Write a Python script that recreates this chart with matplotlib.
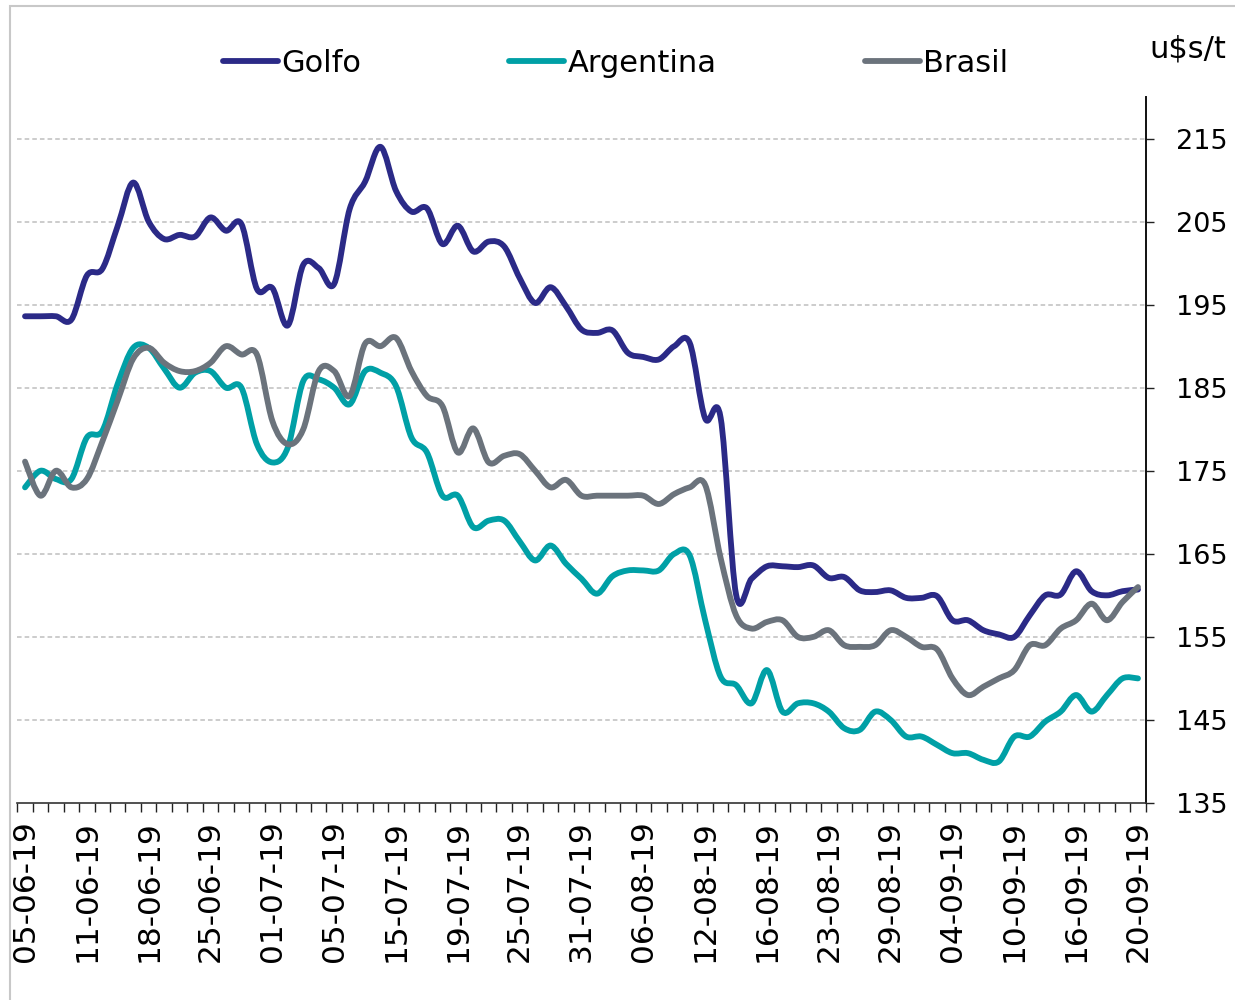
import matplotlib
matplotlib.use("Agg")
import matplotlib.pyplot as plt
from matplotlib.patches import Rectangle, PathPatch
from matplotlib.path import Path
from matplotlib.lines import Line2D
from matplotlib.ticker import FixedLocator
import numpy as np

# tick labels every 4th trading day (73 days in total)
tick_labels = ["05-06-19", "11-06-19", "18-06-19", "25-06-19", "01-07-19",
               "05-07-19", "15-07-19", "19-07-19", "25-07-19", "31-07-19",
               "06-08-19", "12-08-19", "16-08-19", "23-08-19", "29-08-19",
               "04-09-19", "10-09-19", "16-09-19", "20-09-19"]

golfo = [193.6, 193.6, 193.6, 193.2, 198.5, 199.3, 204.5, 209.7, 205.0, 202.9,
         203.4, 203.2, 205.5, 203.9, 204.7, 196.9, 197.0, 192.5, 199.8, 199.4,
         197.5, 206.5, 209.8, 214.0, 208.7, 206.2, 206.6, 202.3, 204.5, 201.4,
         202.6, 202.0, 198.2, 195.2, 197.1, 194.8, 192.0, 191.6, 191.9, 189.2,
         188.7, 188.4, 190.0, 190.4, 181.3, 181.4, 160.1, 162.0, 163.5, 163.5,
         163.4, 163.6, 162.1, 162.2, 160.6, 160.4, 160.6, 159.7, 159.7, 159.9,
         157.0, 157.0, 155.8, 155.3, 155.0, 157.6, 160.0, 160.1, 162.9, 160.5,
         160.0, 160.5, 160.7]

argentina = [173.0, 175.0, 174.0, 174.0, 179.0, 179.8, 185.5, 189.8, 189.8, 187.3,
             185.0, 186.8, 187.0, 185.0, 185.0, 178.2, 176.0, 177.8, 185.8, 186.0,
             185.0, 183.0, 187.0, 186.8, 185.2, 179.0, 177.2, 172.0, 172.0, 168.2,
             169.0, 169.0, 166.5, 164.2, 166.0, 163.8, 162.0, 160.2, 162.3, 163.0,
             163.0, 163.0, 165.0, 164.8, 157.0, 150.2, 149.2, 147.0, 151.0, 146.0,
             147.0, 147.0, 146.0, 144.0, 143.8, 146.0, 145.0, 143.0, 143.0, 142.0,
             141.0, 141.0, 140.2, 140.0, 143.0, 143.0, 144.8, 146.0, 148.0, 146.0,
             148.0, 150.0, 150.0]

brasil = [176.1, 172.0, 175.0, 173.0, 174.0, 178.5, 183.5, 188.5, 189.8, 188.0,
          187.0, 187.0, 188.0, 190.0, 189.0, 189.0, 181.0, 178.2, 180.0, 187.0,
          187.0, 184.0, 190.3, 190.0, 191.0, 187.0, 184.0, 182.8, 177.2, 180.1,
          176.0, 176.8, 177.0, 175.0, 173.0, 173.9, 172.0, 172.0, 172.0, 172.0,
          172.0, 171.0, 172.2, 173.0, 173.3, 164.5, 157.6, 156.0, 156.8, 157.0,
          155.0, 155.0, 155.8, 154.0, 153.8, 154.0, 155.8, 155.0, 153.8, 153.5,
          150.0, 148.0, 149.0, 150.0, 151.0, 154.0, 154.0, 156.0, 157.0, 159.0,
          157.0, 159.2, 161.0]

series = [("Golfo", golfo, "#2B2A87"),
          ("Argentina", argentina, "#00A0A6"),
          ("Brasil", brasil, "#6B737C")]


def smooth_path(xs, ys):
    # Excel-like smoothed line: cubic bezier segments through every point
    pts = np.column_stack([xs, ys]).astype(float)
    n = len(pts)
    verts = [pts[0]]
    codes = [Path.MOVETO]
    for i in range(n - 1):
        p0 = pts[i - 1] if i > 0 else pts[i]
        p1 = pts[i]
        p2 = pts[i + 1]
        p3 = pts[i + 2] if i + 2 < n else pts[i + 1]
        c1 = p1 + (p2 - p0) / 6.0
        c2 = p2 - (p3 - p1) / 6.0
        verts += [c1, c2, p2]
        codes += [Path.CURVE4] * 3
    return Path(verts, codes)


x = np.arange(len(golfo))

fig = plt.figure(figsize=(12.35, 10), dpi=100)
ax = fig.add_axes([0.014, 0.197, 0.9137, 0.706])

lw = 4.2
handles = []
for name, vals, col in series:
    patch = PathPatch(smooth_path(x, vals), fill=False, edgecolor=col, lw=lw,
                      capstyle="round", joinstyle="round", zorder=3)
    ax.add_patch(patch)
    handles.append(Line2D([], [], color=col, lw=lw, solid_capstyle="round", label=name))

ax.set_xlim(-0.5, len(golfo) - 0.5)
ax.set_ylim(135, 220)

# x axis: ticks between categories, label every 4th day
ax.xaxis.set_major_locator(FixedLocator(x[::4]))
ax.set_xticklabels(tick_labels, rotation=90, fontsize=22.5)
ax.xaxis.set_minor_locator(FixedLocator(np.arange(-0.5, len(golfo), 1.0)))
ax.tick_params(axis="x", which="major", length=0, pad=12)
ax.tick_params(axis="x", which="minor", length=6.5, width=1.0, direction="out", color="#222222")

# y axis on the right
ax.yaxis.tick_right()
ax.set_yticks(np.arange(135, 216, 10))
ax.tick_params(axis="y", which="major", length=5.8, width=1.0, direction="out",
               labelsize=19.5, pad=16, color="#222222")

for s in ["left", "top"]:
    ax.spines[s].set_visible(False)
ax.spines["bottom"].set_color("#333333")
ax.spines["right"].set_color("#111111")
ax.spines["bottom"].set_linewidth(1.2)
ax.spines["right"].set_linewidth(1.4)

for v in np.arange(145, 216, 10):
    ax.axhline(v, color="#BFBFBF", lw=1.1, ls=(0, (3, 2)), zorder=0)

leg = fig.legend(handles=handles, loc="center", bbox_to_anchor=(0.4985, 0.937), ncol=3,
                 frameon=False, fontsize=22, handlelength=1.8, handletextpad=0.1,
                 columnspacing=4.85, borderpad=0)

fig.text(0.962, 0.951, "u$s/t", fontsize=22, ha="center", va="center")

fig.patches.append(Rectangle((10 / 1235, -0.2), 1.2, 1.194, transform=fig.transFigure,
                             fill=False, edgecolor="#C8C8C8", lw=1.5))

fig.savefig("out.png", dpi=100)
